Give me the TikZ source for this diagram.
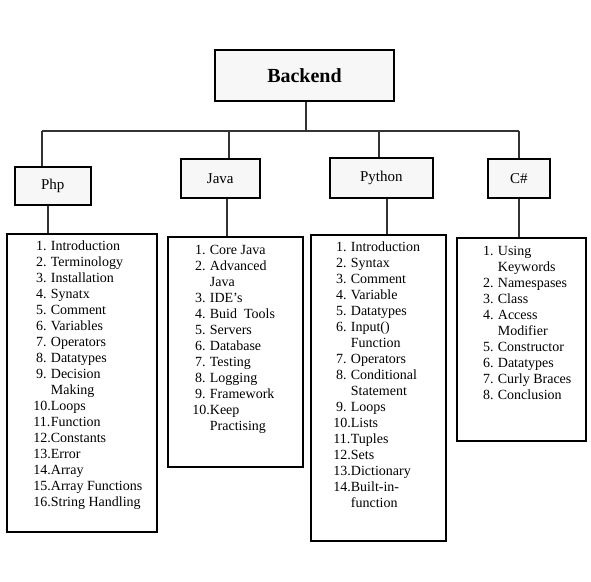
\documentclass[tikz,border=0pt]{standalone}
\usepackage{fontspec}
\setmainfont{Liberation Serif}

% list entries: number, then text at a hanging indent
\newcommand{\li}[2]{\makebox[1.05em][l]{#1}#2}
\newcommand{\lii}[2]{\makebox[1.05em][l]{\hspace*{-.2em}#1}#2}
\newcommand{\cont}[1]{\hspace*{1.05em}#1}

\tikzset{
  topbox/.style={draw,line width=2pt,fill=black!3,anchor=north west,minimum width=179pt,minimum height=51pt,font=\fontsize{20}{23}\selectfont\bfseries},
  langbox/.style={draw,line width=1.6pt,fill=black!3,anchor=north west,font=\fontsize{15}{17}\selectfont},
  listbox/.style={draw,line width=1.5pt,fill=white,anchor=north west,inner sep=0pt},
  listtext/.style={anchor=north west,inner sep=0pt,align=left,font=\fontsize{14}{16}\selectfont},
  link/.style={line width=1.3pt,draw=black!80}
}

\begin{document}
\begin{tikzpicture}[x=1pt,y=-1pt]
    \useasboundingbox[fill=white] (0,0) rectangle (591,581);
    % top
    \node[topbox] (backend) at (214,49) {Backend};
    % languages
    \node[langbox,minimum width=76pt,minimum height=38pt] (php) at (14,166) {Php};
    \node[langbox,minimum width=79pt,minimum height=39pt] (java) at (180,158) {Java};
    \node[langbox,minimum width=103pt,minimum height=40pt] (python) at (329,157) {Python};
    \node[langbox,minimum width=62pt,minimum height=39pt] (csharp) at (487,158) {C\#};
    % topic boxes
    \node[listbox,minimum width=150pt,minimum height=298pt] (phplist) at (6,233) {};
    \node[listbox,minimum width=135pt,minimum height=230pt] (javalist) at (167,236) {};
    \node[listbox,minimum width=135pt,minimum height=306pt] (pythonlist) at (310,234) {};
    \node[listbox,minimum width=129pt,minimum height=203pt] (csharplist) at (456,237) {};
    \node[listtext] (phptopics) at (36,241) {\li{1.}{Introduction}\\ \li{2.}{Terminology}\\ \li{3.}{Installation}\\
      \li{4.}{Synatx}\\ \li{5.}{Comment}\\ \li{6.}{Variables}\\ \li{7.}{Operators}\\ \li{8.}{Datatypes}\\
      \li{9.}{Decision}\\ \cont{Making}\\ \lii{10.}{Loops}\\ \lii{11.}{Function}\\ \lii{12.}{Constants}\\
      \lii{13.}{Error}\\ \lii{14.}{Array}\\ \lii{15.}{Array Functions}\\ \lii{16.}{String Handling}};
    \node[listtext] (javatopics) at (195,245) {\li{1.}{Core Java}\\ \li{2.}{Advanced}\\ \cont{Java}\\ \li{3.}{IDE’s}\\
      \li{4.}{Buid\ \ Tools}\\ \li{5.}{Servers}\\ \li{6.}{Database}\\ \li{7.}{Testing}\\ \li{8.}{Logging}\\
      \li{9.}{Framework}\\ \lii{10.}{Keep}\\ \cont{Practising}};
    \node[listtext] (pythontopics) at (336,242) {\li{1.}{Introduction}\\ \li{2.}{Syntax}\\ \li{3.}{Comment}\\
      \li{4.}{Variable}\\ \li{5.}{Datatypes}\\ \li{6.}{Input()}\\ \cont{Function}\\ \li{7.}{Operators}\\
      \li{8.}{Conditional}\\ \cont{Statement}\\ \li{9.}{Loops}\\ \lii{10.}{Lists}\\ \lii{11.}{Tuples}\\
      \lii{12.}{Sets}\\ \lii{13.}{Dictionary}\\ \lii{14.}{Built-in-}\\ \cont{function}};
    \node[listtext] (csharptopics) at (483,246) {\li{1.}{Using}\\ \cont{Keywords}\\ \li{2.}{Namespases}\\
      \li{3.}{Class}\\ \li{4.}{Access}\\ \cont{Modifier}\\ \li{5.}{Constructor}\\ \li{6.}{Datatypes}\\
      \li{7.}{Curly Braces}\\ \li{8.}{Conclusion}};
    % connectors
    \coordinate (hub) at (306,131);
    \coordinate (phpjoin) at (42,131);
    \coordinate (javajoin) at (229,131);
    \coordinate (pythonjoin) at (379,131);
    \coordinate (csharpjoin) at (519,131);
    \coordinate (phpdrop) at (48,0);
    \coordinate (javadrop) at (227,0);
    \coordinate (pythondrop) at (387,0);
    \coordinate (csharpdrop) at (519,0);
    \draw[link] (backend.south -| hub) -- (hub);
    \draw[link] (phpjoin) -- (csharpjoin);
    \draw[link] (phpjoin) -- (php.north -| phpjoin);
    \draw[link] (javajoin) -- (java.north -| javajoin);
    \draw[link] (pythonjoin) -- (python.north -| pythonjoin);
    \draw[link] (csharpjoin) -- (csharp.north -| csharpjoin);
    \draw[link] (php.south -| phpdrop) -- (phplist.north -| phpdrop);
    \draw[link] (java.south -| javadrop) -- (javalist.north -| javadrop);
    \draw[link] (python.south -| pythondrop) -- (pythonlist.north -| pythondrop);
    \draw[link] (csharp.south -| csharpdrop) -- (csharplist.north -| csharpdrop);
  \end{tikzpicture}
\end{document}
